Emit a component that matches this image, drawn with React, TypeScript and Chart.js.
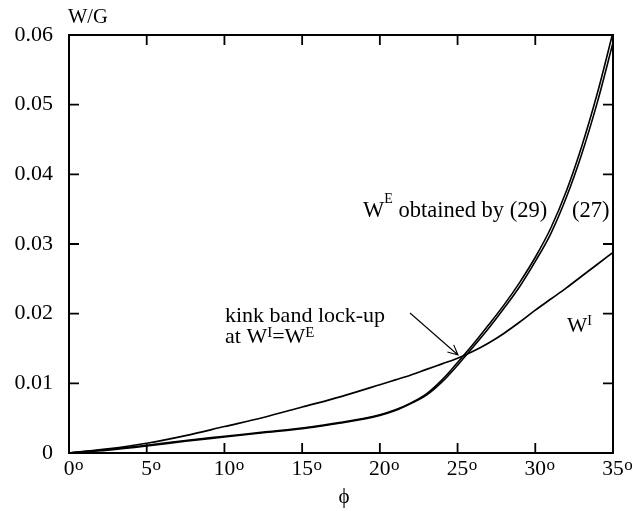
import React, { useEffect, useRef } from "react";
import { Chart, registerables } from "chart.js";

Chart.register(...registerables);

// ---- data ----
const phi = [0, 2.5, 5, 7.5, 10, 12.5, 15, 17.5, 20, 21, 22, 23, 24, 25, 26, 27, 28, 29, 30, 31, 32, 33, 34, 35];
const wI = [0, 0.0006, 0.0014, 0.0025, 0.0038, 0.0051, 0.0066, 0.0081, 0.0098, 0.0105, 0.0112, 0.012, 0.0128, 0.0136, 0.0146, 0.0158, 0.0172, 0.0188, 0.0205, 0.0221, 0.0237, 0.0254, 0.0271, 0.0288];
const wE29 = [0, 0.0005, 0.0011, 0.0018, 0.0024, 0.003, 0.0036, 0.0044, 0.0055, 0.0062, 0.0072, 0.0085, 0.0105, 0.013, 0.0156, 0.0184, 0.0213, 0.0245, 0.0281, 0.0323, 0.0376, 0.0441, 0.0517, 0.0604];
const wE27 = [0, 0.0004, 0.001, 0.0017, 0.0023, 0.0029, 0.0035, 0.0043, 0.0054, 0.0061, 0.0071, 0.0083, 0.0102, 0.0126, 0.0152, 0.0179, 0.0208, 0.0239, 0.0275, 0.0315, 0.0367, 0.043, 0.0504, 0.0589];

const xTickValues = [0, 5, 10, 15, 20, 25, 30, 35];
const xTickLabels = ["0", "5", "10", "15", "20", "25", "30", "35"];
const yTickValues = [0, 0.01, 0.02, 0.03, 0.04, 0.05, 0.06];
const yTickLabels = ["0", "0.01", "0.02", "0.03", "0.04", "0.05", "0.06"];

const SERIF = '"Liberation Serif", "Times New Roman", serif';

type Part = { t: string; sup?: boolean };

function drawRich(
  ctx: CanvasRenderingContext2D,
  parts: Part[],
  x: number,
  y: number,
  size: number,
  supSize: number,
  raise: number
) {
  let cx = x;
  ctx.textAlign = "left";
  ctx.textBaseline = "alphabetic";
  for (const p of parts) {
    ctx.font = `${p.sup ? supSize : size}px ${SERIF}`;
    ctx.fillText(p.t, cx, p.sup ? y - raise : y);
    cx += ctx.measureText(p.t).width;
  }
}

const decorPlugin = {
  id: "decor",
  afterDraw(chart: any) {
    const { ctx, chartArea: a, scales } = chart;
    const xs = scales.x;
    const ys = scales.y;
    ctx.save();
    ctx.strokeStyle = "#000";
    ctx.fillStyle = "#000";
    // frame
    ctx.lineWidth = 2;
    ctx.strokeRect(a.left, a.top, a.right - a.left, a.bottom - a.top);
    // inward ticks on all four sides
    ctx.lineWidth = 1.8;
    ctx.beginPath();
    for (const v of xTickValues.slice(1, -1)) {
      const px = xs.getPixelForValue(v);
      ctx.moveTo(px, a.bottom);
      ctx.lineTo(px, a.bottom - 10);
      ctx.moveTo(px, a.top);
      ctx.lineTo(px, a.top + 10);
    }
    for (const v of yTickValues.slice(1, -1)) {
      const py = ys.getPixelForValue(v);
      ctx.moveTo(a.left, py);
      ctx.lineTo(a.left + 10, py);
      ctx.moveTo(a.right, py);
      ctx.lineTo(a.right - 10, py);
    }
    ctx.stroke();

    // x tick labels with superscript "o"
    xTickValues.forEach((v, i) => {
      const px = xs.getPixelForValue(v);
      ctx.font = `21.5px ${SERIF}`;
      ctx.textAlign = "center";
      ctx.textBaseline = "alphabetic";
      const label = xTickLabels[i];
      ctx.fillText(label, px, a.bottom + 22);
      const w = ctx.measureText(label).width;
      ctx.font = `17px ${SERIF}`;
      ctx.textAlign = "left";
      ctx.fillText("o", px + w / 2 + 0.5, a.bottom + 17);
    });

    // axis titles
    ctx.font = `20.5px ${SERIF}`;
    ctx.textAlign = "left";
    ctx.fillText("W/G", a.left - 1, a.top - 12);
    ctx.textAlign = "center";
    ctx.font = `21px ${SERIF}`;
    ctx.fillText("\u03d5", 344, a.bottom + 50);

    // annotations
    drawRich(ctx, [{ t: "W" }, { t: "E", sup: true }, { t: " obtained by (29)" }], 363, 217, 22.5, 14, 14);
    drawRich(ctx, [{ t: "(27)" }], 572, 217, 22.5, 14, 14);
    drawRich(ctx, [{ t: "kink band lock-up" }], 225, 322, 22, 14, 7);
    drawRich(ctx, [{ t: "at W" }, { t: "I", sup: true }, { t: "=W" }, { t: "E", sup: true }], 225, 343, 22, 15, 6.5);
    drawRich(ctx, [{ t: "W" }, { t: "I", sup: true }], 567, 332, 21.5, 14, 7);

    // arrow pointing to W^I = W^E
    const x0 = 410, y0 = 313, x1 = 458, y1 = 355;
    const ang = Math.atan2(y1 - y0, x1 - x0);
    const hl = 11, ha = 0.45;
    ctx.lineWidth = 1.1;
    ctx.beginPath();
    ctx.moveTo(x0, y0);
    ctx.lineTo(x1, y1);
    ctx.moveTo(x1 - hl * Math.cos(ang - ha), y1 - hl * Math.sin(ang - ha));
    ctx.lineTo(x1, y1);
    ctx.lineTo(x1 - hl * Math.cos(ang + ha), y1 - hl * Math.sin(ang + ha));
    ctx.stroke();
    ctx.restore();
  },
};

export default function App() {
  const canvasRef = useRef<HTMLCanvasElement | null>(null);

  useEffect(() => {
    if (!canvasRef.current) return;
    const mk = (ys: number[]) => phi.map((p, i) => ({ x: p, y: ys[i] }));
    const common = {
      borderColor: "#000",
      pointRadius: 0,
      fill: false,
      cubicInterpolationMode: "monotone" as const,
    };
    const chart = new Chart(canvasRef.current, {
      type: "line",
      data: {
        datasets: [
          { ...common, label: "W^I", data: mk(wI), borderWidth: 1.7 },
          { ...common, label: "W^E (29)", data: mk(wE29), borderWidth: 1.6 },
          { ...common, label: "W^E (27)", data: mk(wE27), borderWidth: 1.6 },
        ],
      },
      options: {
        animation: false,
        responsive: true,
        maintainAspectRatio: false,
        layout: { padding: { left: 0, top: 35, right: 22, bottom: 58 } },
        plugins: { legend: { display: false }, tooltip: { enabled: false } },
        scales: {
          x: {
            type: "linear",
            min: 0,
            max: 35,
            grid: { display: false },
            border: { display: false },
            ticks: { display: false, stepSize: 5 },
            afterFit: (s: any) => {
              s.height = 0;
            },
          },
          y: {
            type: "linear",
            min: 0,
            max: 0.06,
            grid: { display: false, drawTicks: false },
            border: { display: false },
            ticks: {
              stepSize: 0.01,
              padding: 16,
              color: "#000",
              font: { family: SERIF, size: 22 },
              callback: (_v: any, i: number) => yTickLabels[i],
            },
            afterFit: (s: any) => {
              s.width = 69;
            },
          },
        },
      },
      plugins: [decorPlugin],
    });
    return () => chart.destroy();
  }, []);

  return (
    <div style={{ position: "absolute", left: 0, top: 0, width: 635, height: 511, background: "#fff" }}>
      <canvas ref={canvasRef} />
    </div>
  );
}
